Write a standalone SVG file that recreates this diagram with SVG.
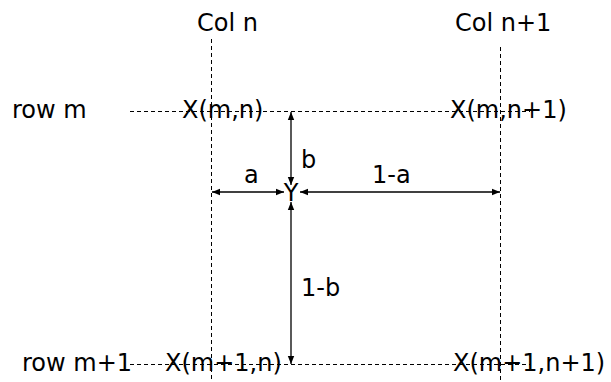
<svg xmlns="http://www.w3.org/2000/svg" width="611" height="382" viewBox="0 0 611 382">
<style>
text{font-family:"DejaVu Sans","Verdana",sans-serif;font-size:24px;fill:#000}
.grid{stroke:#000;stroke-width:1;stroke-dasharray:4,3;fill:none}
.dim{stroke:#000;stroke-width:1.3;fill:none;marker-start:url(#ah);marker-end:url(#ah)}
</style>
<defs>
<marker id="ah" viewBox="0 0 10 10" refX="10" refY="5" markerWidth="8" markerHeight="8" markerUnits="userSpaceOnUse" orient="auto-start-reverse">
<path d="M0,1 L10,5 L0,9 z" fill="#000"/>
</marker>
</defs>
<rect width="611" height="382" fill="#fff"/>
<g id="connectors">
<line class="grid" x1="211.5" y1="39" x2="211.5" y2="382"/>
<line class="grid" x1="500.5" y1="47" x2="500.5" y2="382"/>
<line class="grid" x1="130" y1="111.5" x2="530" y2="111.5"/>
<line class="grid" x1="130" y1="364.5" x2="530" y2="364.5"/>
<line class="dim" x1="291" y1="112" x2="291" y2="185"/>
<line class="dim" x1="291" y1="202" x2="291" y2="364"/>
<line class="dim" x1="212" y1="192" x2="284" y2="192"/>
<line class="dim" x1="300" y1="192" x2="500" y2="192"/>
</g>
<g id="col-n"><text x="197" y="31">Col n</text></g>
<g id="col-n1"><text x="455" y="31">Col n+1</text></g>
<g id="row-m"><text x="12" y="118">row m</text></g>
<g id="row-m1"><text x="22" y="371">row m+1</text></g>
<g id="x-mn"><text x="182" y="118">X(m,n)</text></g>
<g id="x-mn1"><text x="450" y="118">X(m,n+1)</text></g>
<g id="x-m1n"><text x="165" y="371">X(m+1,n)</text></g>
<g id="x-m1n1"><text x="453" y="371">X(m+1,n+1)</text></g>
<g id="y"><text x="291" y="201" text-anchor="middle">Y</text></g>
<g id="labels">
<text x="244" y="183">a</text>
<text x="301" y="168">b</text>
<text x="372" y="183">1-a</text>
<text x="301" y="296">1-b</text>
</g>
</svg>
